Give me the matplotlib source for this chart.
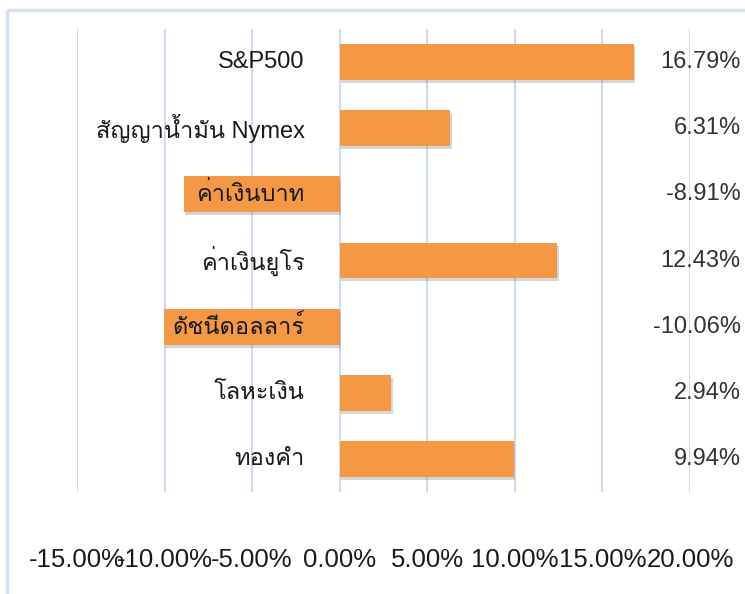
import matplotlib
matplotlib.use("Agg")
import matplotlib.pyplot as plt
from matplotlib import font_manager
from matplotlib.ft2font import FT2Font
from matplotlib.patches import Rectangle
import matplotlib.patheffects as pe

categories = ["S&P500", "สัญญาน้ำมัน Nymex", "ค่าเงินบาท", "ค่าเงินยูโร",
              "ดัชนีดอลลาร์", "โลหะเงิน", "ทองคำ"]
values = [16.79, 6.31, -8.91, 12.43, -10.06, 2.94, 9.94]
value_labels = ["16.79%", "6.31%", "-8.91%", "12.43%", "-10.06%", "2.94%", "9.94%"]
xticks = [-15, -10, -5, 0, 5, 10, 15, 20]
xtick_labels = ["-15.00%", "-10.00%", "-5.00%", "0.00%", "5.00%", "10.00%", "15.00%", "20.00%"]

# find a font with Thai glyphs
thai_font = None
seen = set()
for f in font_manager.fontManager.ttflist:
    if f.name in seen:
        continue
    try:
        cm = FT2Font(f.fname).get_charmap()
        if 0x0E04 in cm and 0x0E07 in cm:
            thai_font = f.name
            break
    except Exception:
        pass
    seen.add(f.name)

fam = ["Liberation Sans"] + ([thai_font] if thai_font else []) + ["DejaVu Sans"]

fig = plt.figure(figsize=(7.45, 5.94), dpi=100)
ax = fig.add_axes([77/745, 1-492/594, (690-77)/745, (492-29)/594])

# outer border
fig.patches.append(Rectangle((7/745, 1-10/594), 2, -2, transform=fig.transFigure,
                             fill=False, edgecolor="#D6E2F2", linewidth=2.5, zorder=0))

ypos = list(range(len(categories)))
bars = ax.barh(ypos, values, height=0.54, color="#F59846", zorder=3)
for b in bars:
    b.set_path_effects([pe.SimplePatchShadow(offset=(1.2, -2.2), shadow_rgbFace="#8a8a8a", alpha=0.35),
                        pe.Normal()])

ax.set_ylim(len(categories) - 0.5, -0.5)
ax.set_xlim(-15, 20)
ax.set_xticks(xticks)
ax.set_xticklabels(xtick_labels, fontsize=18.5, family=fam, color="#1a1a1a")
ax.tick_params(axis="x", length=0, pad=40)
ax.set_yticks([])
ax.grid(axis="x", color="#CCDBEF", linewidth=1.5, zorder=0)
for s in ax.spines.values():
    s.set_visible(False)

for i, (c, v, vl) in enumerate(zip(categories, values, value_labels)):
    ax.text(-2.0, i, c, ha="right", va="center", fontsize=17, family=fam, color="#1a1a1a", zorder=5)
    ax.text(22.9, i, vl, ha="right", va="center", fontsize=17, family=fam, color="#333333",
            clip_on=False, zorder=5)

fig.savefig("out.png", dpi=100)
